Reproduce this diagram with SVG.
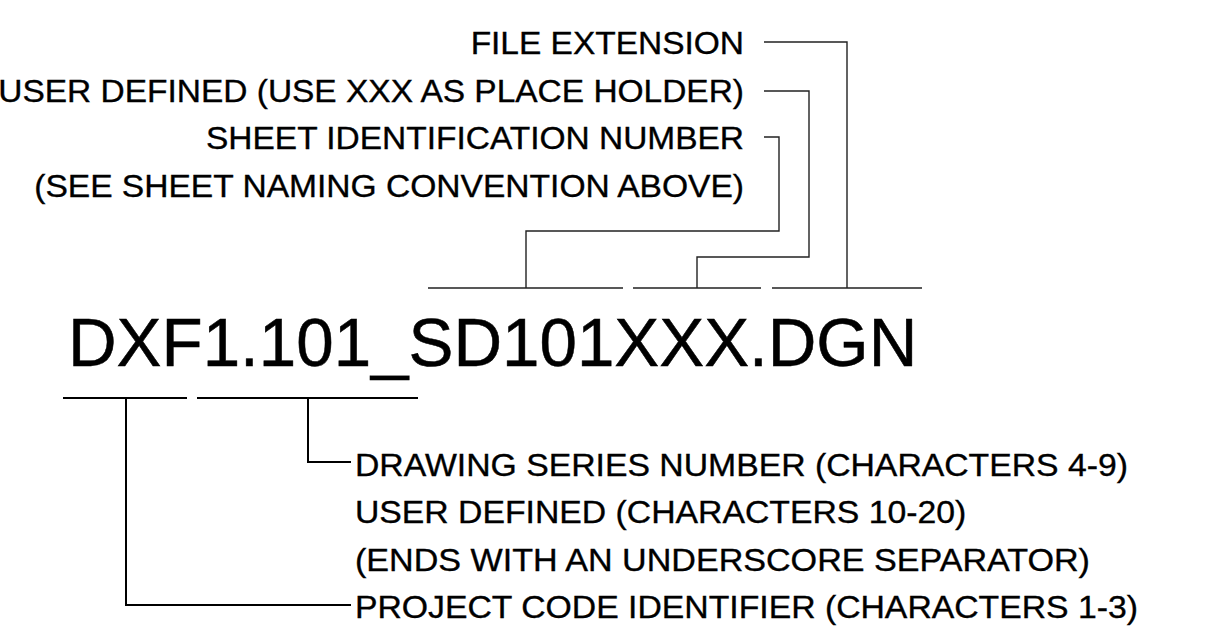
<svg xmlns="http://www.w3.org/2000/svg" width="1209" height="634" viewBox="0 0 1209 634">
<style>
text{font-family:"Liberation Sans",Arial,sans-serif;fill:#000;stroke:#000;stroke-width:0.35}
.lbl{font-size:31px}
.big{font-size:68px;stroke-width:0.5}
.top{fill:none;stroke:#222;stroke-width:1.4}
.bot{fill:none;stroke:#000;stroke-width:2}
</style>
<rect width="1209" height="634" fill="#fff"/>
<g id="filename"><text class="big" transform="translate(68,366) scale(0.99 1)">DXF1.101_SD101XXX.DGN</text></g>
<g id="label-file-extension"><text class="lbl" text-anchor="end" transform="translate(744,54) scale(1.08 1)">FILE EXTENSION</text></g>
<g id="label-user-defined-top"><text class="lbl" text-anchor="end" transform="translate(744,102) scale(1.08 1)">USER DEFINED (USE XXX AS PLACE HOLDER)</text></g>
<g id="label-sheet-id"><text class="lbl" text-anchor="end" transform="translate(744,149) scale(1.08 1)">SHEET IDENTIFICATION NUMBER</text><text class="lbl" text-anchor="end" transform="translate(744,197) scale(1.083 1)">(SEE SHEET NAMING CONVENTION ABOVE)</text></g>
<g id="label-drawing-series"><text class="lbl" transform="translate(355,476) scale(1.089 1)">DRAWING SERIES NUMBER (CHARACTERS 4-9)</text><text class="lbl" transform="translate(355,523) scale(1.089 1)">USER DEFINED (CHARACTERS 10-20)</text><text class="lbl" transform="translate(355,571) scale(1.1 1)">(ENDS WITH AN UNDERSCORE SEPARATOR)</text></g>
<g id="label-project-code"><text class="lbl" transform="translate(355,618) scale(1.089 1)">PROJECT CODE IDENTIFIER (CHARACTERS 1-3)</text></g>
<g id="connectors">
<path class="top" d="M428 288H623M633 288H761M772 288H922"/>
<path class="top" d="M764 42H847V288"/>
<path class="top" d="M764 91H809V257H697V288"/>
<path class="top" d="M764 137H779V231H526V288"/>
<path class="bot" d="M63 398H187M197 398H418"/>
<path class="bot" d="M308 398V462H351"/>
<path class="bot" d="M126 398V605H351"/>
</g>
</svg>
